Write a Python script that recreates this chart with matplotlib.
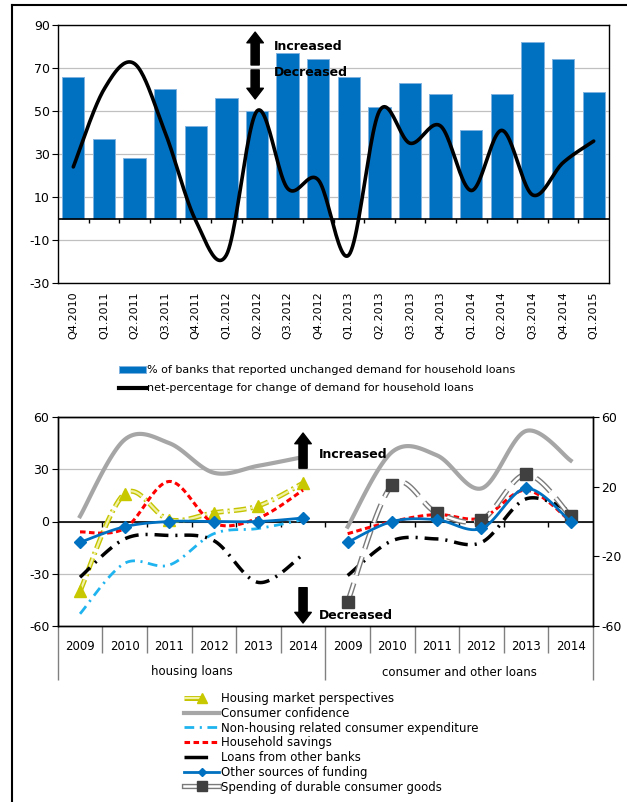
import numpy as np
import matplotlib
matplotlib.use("Agg")
import matplotlib.pyplot as plt
from matplotlib.lines import Line2D
from matplotlib.legend_handler import HandlerTuple

plt.rcParams['font.family'] = ['DejaVu Sans']
plt.rcParams['lines.scale_dashes'] = False
plt.rcParams['axes.unicode_minus'] = False

# ---- top chart data
quarters = ["Q4.2010", "Q1.2011", "Q2.2011", "Q3.2011", "Q4.2011", "Q1.2012",
            "Q2.2012", "Q3.2012", "Q4.2012", "Q1.2013", "Q2.2013", "Q3.2013",
            "Q4.2013", "Q1.2014", "Q2.2014", "Q3.2014", "Q4.2014", "Q1.2015"]
unchanged = [66, 37, 28, 60, 43, 56, 50, 77, 74, 66, 52, 63, 58, 41, 58, 82, 74, 59]
net_pct = [24, 60, 72, 40, -1, -17, 50, 14, 18, -17, 50, 35, 43, 13, 41, 11, 26, 36]

# ---- bottom chart data
years = ["2009", "2010", "2011", "2012", "2013", "2014"]
groups = ["housing loans", "consumer and other loans"]

# housing loans
hl_market = [-40, 16, 1, 5, 9, 22]
hl_confidence = [3, 47, 45, 28, 32, 37]
hl_nonhousing = [-53, -24, -25, -7, -4, 1]
hl_savings = [-6, -4, 23, -1, 2, 18]
hl_otherbanks = [-32, -10, -8, -11, -35, -19]
hl_otherfunding = [-12, -3, 0, 0, 0, 2]

# consumer and other loans
cl_confidence = [-3, 40, 38, 19, 52, 35]
cl_savings = [-7, 0, 4, 2, 18, 0]
cl_otherbanks = [-31, -11, -10, -12, 13, 6]
cl_otherfunding = [-12, 0, 1, -4, 19, 0]
cl_durables = [-46, 21, 5, 1, 27, 3]


def smooth(x, y, n=25):
    # excel-like smoothed line (catmull-rom as bezier)
    pts = np.column_stack([np.asarray(x, float), np.asarray(y, float)])
    out = []
    t = np.linspace(0, 1, n)[:, None]
    for i in range(len(pts) - 1):
        p0 = pts[i - 1] if i > 0 else pts[i]
        p1, p2 = pts[i], pts[i + 1]
        p3 = pts[i + 2] if i + 2 < len(pts) else pts[i + 1]
        c1 = p1 + (p2 - p0) / 6
        c2 = p2 - (p3 - p1) / 6
        seg = (1 - t) ** 3 * p1 + 3 * (1 - t) ** 2 * t * c1 + 3 * (1 - t) * t ** 2 * c2 + t ** 3 * p2
        out.append(seg if i == 0 else seg[1:])
    out = np.vstack(out)
    return out[:, 0], out[:, 1]


def block_arrow(ax, x, y0, y1):
    ax.annotate('', xy=(x, y1), xytext=(x, y0),
                arrowprops=dict(arrowstyle='simple,head_length=0.55,head_width=0.85,tail_width=0.42',
                                color='black', shrinkA=0, shrinkB=0, mutation_scale=14))


fig = plt.figure(figsize=(6.27, 8.02), dpi=100)
W, H = 627.0, 802.0

# ================= top chart
ax1 = fig.add_axes([58 / W, 1 - 283 / H, (609 - 58) / W, (283 - 25) / H])
x = np.arange(len(quarters))
bars = ax1.bar(x, unchanged, width=0.73, color='#0070C0', edgecolor='#7fb2e0', linewidth=0.7, zorder=2)
xs, ys = smooth(x, net_pct)
line, = ax1.plot(xs, ys, color='black', lw=2.6, solid_capstyle='round', zorder=3)
ax1.set_xlim(-0.5, len(quarters) - 0.5)
ax1.set_ylim(-30, 90)
ax1.set_yticks(range(-30, 91, 20))
ax1.yaxis.grid(True, color='#c0c0c0', lw=0.9)
ax1.set_axisbelow(True)
ax1.axhline(0, color='black', lw=1.2, zorder=2.5)
ax1.vlines(x[:-1] + 0.5, -2.3, 0, color='black', lw=1, zorder=2.5)
ax1.set_xticks(x, quarters, rotation=90, fontsize=8)
ax1.tick_params(axis='x', length=0, pad=6)
ax1.tick_params(axis='y', labelsize=9, length=4, direction='out', pad=2)
for s in ax1.spines.values():
    s.set_color('black')
    s.set_linewidth(1)

block_arrow(ax1, 5.94, 71.4, 86.7)
block_arrow(ax1, 5.94, 69.1, 55.6)
ax1.text(6.56, 80, 'Increased', fontsize=9, fontweight='bold', va='center', ha='left', zorder=5)
ax1.text(6.56, 68, 'Decreased', fontsize=9, fontweight='bold', va='center', ha='left', zorder=5)

fig.legend([bars, Line2D([], [], color='black', lw=3)],
           ['% of banks that reported unchanged demand for household loans',
            'net-percentage for change of demand for household loans'],
           loc='upper left', bbox_to_anchor=(119 / W, 1 - 365 / H), frameon=False,
           fontsize=8, handlelength=2.4, handleheight=0.6, handletextpad=0.1, labelspacing=0.75,
           borderpad=0, borderaxespad=0)

# ================= bottom chart
ax2 = fig.add_axes([57.7 / W, 1 - 626 / H, (593 - 57.7) / W, (626 - 417) / H])
xh = np.arange(6)
xc = np.arange(6, 12)

yel, yel_in = '#c4c400', '#f2f2a6'
mk_dash = (9, 3, 1.5, 3)
xs, ys = smooth(xh, hl_market)
ax2.plot(xs, ys, color=yel, lw=3.6, dashes=mk_dash, zorder=3)
ax2.plot(xs, ys, color=yel_in, lw=1.6, dashes=mk_dash, zorder=3)
ax2.plot(xh, hl_market, ls='none', marker='^', ms=8, color='#c8c800', zorder=3)

for xx, yy in [(xh, hl_confidence), (xc, cl_confidence)]:
    ax2.plot(*smooth(xx, yy), color='#a6a6a6', lw=3, zorder=3)

ax2.plot(*smooth(xh, hl_nonhousing), color='#1fb4ef', lw=2, dashes=(7, 4, 1.5, 4), zorder=3)

for xx, yy in [(xh, hl_savings), (xc, cl_savings)]:
    ax2.plot(*smooth(xx, yy), color='#ff0000', lw=2.2, dashes=(4, 2.5), zorder=3)

for xx, yy in [(xh, hl_otherbanks), (xc, cl_otherbanks)]:
    ax2.plot(*smooth(xx, yy), color='black', lw=2.5, dashes=(10, 5, 1.5, 5), zorder=3)

for xx, yy in [(xh, hl_otherfunding), (xc, cl_otherfunding)]:
    ax2.plot(*smooth(xx, yy), color='#0070C0', lw=2, zorder=4)
    ax2.plot(xx, yy, ls='none', marker='D', ms=6, color='#0070C0', zorder=4)

dur_dash = (14, 6)
xs, ys = smooth(xc, cl_durables)
ax2.plot(xs, ys, color='#7a7a7a', lw=3.8, dashes=dur_dash, zorder=3)
ax2.plot(xs, ys, color='white', lw=1.8, dashes=dur_dash, zorder=3)
ax2.plot(xc, cl_durables, ls='none', marker='s', ms=8, color='#404040', zorder=3)

ax2.set_xlim(-0.5, 11.5)
ax2.set_ylim(-60, 60)
ax2.set_yticks(range(-60, 61, 30))
ax2.yaxis.grid(True, color='#c0c0c0', lw=0.9)
ax2.set_axisbelow(True)
ax2.axhline(0, color='black', lw=1.2, zorder=2.5)
ax2.vlines(np.arange(11) + 0.5, -2.9, 0, color='black', lw=1, zorder=2.5)
ax2.set_xticks(np.arange(12), years * 2, fontsize=8.5)
ax2.tick_params(axis='x', length=0, pad=10)
ax2.tick_params(axis='y', labelsize=9, length=4, direction='out', pad=2)
for s in ax2.spines.values():
    s.set_color('black')
    s.set_linewidth(1)

ax2r = ax2.twinx()
ax2r.set_ylim(-60, 60)
ax2r.set_yticks(range(-60, 61, 40))
ax2r.tick_params(axis='y', labelsize=9, length=4, direction='out', pad=2)
for s in ax2r.spines.values():
    s.set_color('black')
    s.set_linewidth(1)

# category table lines under the axis
tr = ax2.get_xaxis_transform()
ax2.vlines([b for b in np.arange(12) - 0.5 if b not in (-0.5, 5.5)], -27 / 209, 0,
           transform=tr, clip_on=False, color='#808080', lw=1)
ax2.vlines([-0.5, 5.5, 11.5], -54 / 209, 0, transform=tr, clip_on=False, color='#808080', lw=1)
ax2.text(2.5, -46 / 209, groups[0], transform=tr, ha='center', va='center', fontsize=8.5)
ax2.text(8.5, -46 / 209, groups[1], transform=tr, ha='center', va='center', fontsize=8.5)

block_arrow(ax2, 5.0, 30.6, 50.8)
block_arrow(ax2, 5.0, -38, -58.3)
ax2.text(5.36, 38.7, 'Increased', fontsize=9, fontweight='bold', va='center', ha='left', zorder=6)
ax2.text(5.36, -53.7, 'Decreased', fontsize=9, fontweight='bold', va='center', ha='left', zorder=6)

# bottom legend
leg_handles = [
    (Line2D([], [], color=yel, lw=3.6, dashes=(12, 30)), Line2D([], [], color=yel_in, lw=1.6, dashes=(12, 30)),
     Line2D([], [], ls='none', marker='^', ms=7, color='#c8c800')),
    Line2D([], [], color='#a6a6a6', lw=3),
    Line2D([], [], color='#1fb4ef', lw=2, dashes=(7, 4, 1.5, 4)),
    Line2D([], [], color='#ff0000', lw=2.2, dashes=(4, 2.5)),
    Line2D([], [], color='black', lw=2.5, dashes=(17, 30)),
    Line2D([], [], color='#0070C0', lw=2, marker='D', ms=4),
    (Line2D([], [], color='#7a7a7a', lw=3.8), Line2D([], [], color='white', lw=1.8),
     Line2D([], [], ls='none', marker='s', ms=7, color='#404040')),
]
leg_labels = ["Housing market perspectives", "Consumer confidence",
              "Non-housing related consumer expenditure", "Household savings",
              "Loans from other banks", "Other sources of funding",
              "Spending of durable consumer goods"]
fig.legend(leg_handles, leg_labels, loc='upper left', bbox_to_anchor=(184 / W, 1 - 692 / H),
           frameon=False, fontsize=8.5, handlelength=3.0, handletextpad=0.15, labelspacing=0.15,
           borderpad=0, borderaxespad=0, handler_map={tuple: HandlerTuple(ndivide=1, pad=0)})

# outer frame of the picture
fig.add_artist(Line2D([12 / W, 12 / W], [0, 1 - 5 / H], transform=fig.transFigure, color='black', lw=1.5))
fig.add_artist(Line2D([12 / W, 1], [1 - 5 / H, 1 - 5 / H], transform=fig.transFigure, color='black', lw=1.5))

fig.savefig('out.png', dpi=100)
